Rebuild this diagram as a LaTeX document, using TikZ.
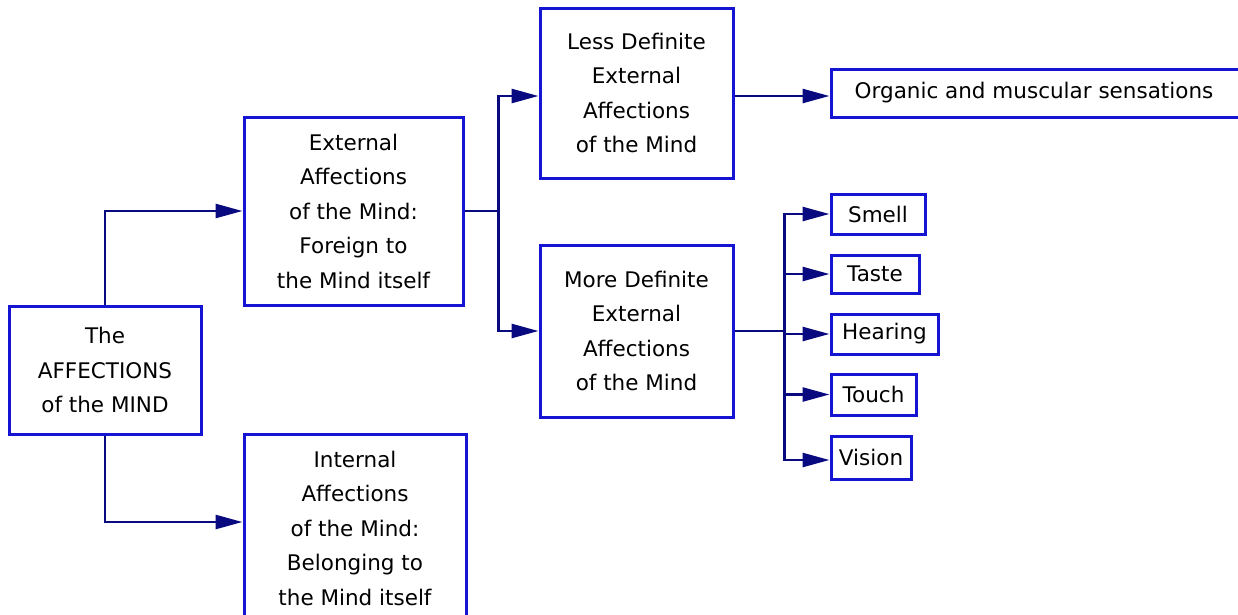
\documentclass[tikz,border=0pt]{standalone}
\usepackage{fontspec}
\setmainfont{DejaVu Sans}
\usetikzlibrary{arrows.meta}
\definecolor{boxblue}{RGB}{20,20,210}
\definecolor{connavy}{RGB}{10,10,128}
\begin{document}
\begin{tikzpicture}[x=1pt,y=-1pt,
  box/.style={draw=boxblue,line width=3pt,fill=white,inner sep=0pt,align=center,
    font=\fontsize{21.5}{34.5}\selectfont,text=black},
  conn/.style={draw=connavy,line width=2.6pt,-{Triangle[length=27pt,width=14pt]}},
  plain/.style={draw=connavy,line width=2.6pt}]
\useasboundingbox (0,0) rectangle (1238,614);
\node[box,minimum width=192,minimum height=128] (root) at (105,370) {The\\AFFECTIONS\\of the MIND};
\node[box,minimum width=219,minimum height=188] (ext) at (353.5,211) {External\\Affections\\of the Mind:\\Foreign to\\the Mind itself};
\node[box,minimum width=222,minimum height=188] (int) at (355,528) {Internal\\Affections\\of the Mind:\\Belonging to\\the Mind itself};
\node[box,minimum width=193,minimum height=170] (less) at (636.5,93) {Less Definite\\External\\Affections\\of the Mind};
\node[box,minimum width=193,minimum height=172] (more) at (636.5,331) {More Definite\\External\\Affections\\of the Mind};
\node[box,minimum width=412,minimum height=48] (org) at (1037,93) {\hspace*{-6pt}Organic and muscular sensations};
\node[box,minimum width=94,minimum height=40] (smell) at (878,214) {Smell};
\node[box,minimum width=88,minimum height=38] (taste) at (875,274) {Taste};
\node[box,minimum width=107,minimum height=40] (hear) at (884.5,334) {Hearing};
\node[box,minimum width=85,minimum height=41] (touch) at (873.5,394.5) {Touch};
\node[box,minimum width=80,minimum height=43] (vision) at (871,457.5) {Vision};
\draw[conn] (root.north) |- (ext.west);
\draw[conn] (root.south) |- ([yshift=6pt]int.west);
\draw[plain] (ext.east) -- ++(34,0) coordinate (j1);
\draw[conn] (j1) |- ([yshift=-3pt]less.west);
\draw[conn] (j1) |- (more.west);
\draw[conn] ([yshift=-3pt]less.east) -- ([yshift=-3pt]org.west);
\draw[plain] (more.east) -- ++(50,0) coordinate (j2);
\draw[conn] (j2) |- (smell.west);
\draw[conn] (j2) |- (taste.west);
\draw[conn] (j2) |- (hear.west);
\draw[conn] (j2) |- (touch.west);
\draw[conn] (j2) |- ([yshift=-2.5pt]vision.west);
\end{tikzpicture}
\end{document}
